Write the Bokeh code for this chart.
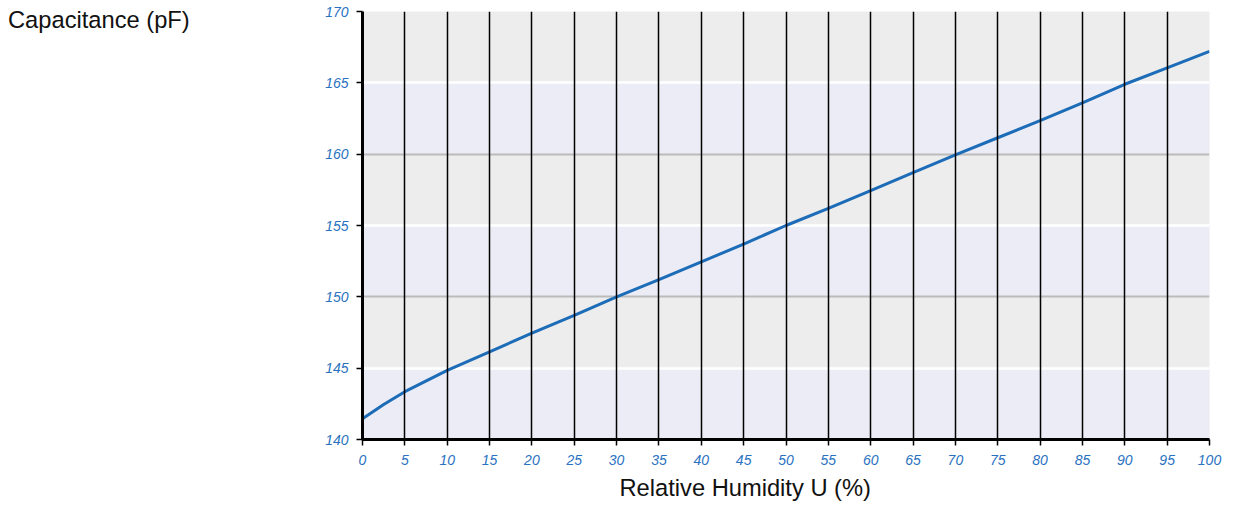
from bokeh.plotting import figure
from bokeh.models import Range1d, FixedTicker, Grid, BoxAnnotation, Title, Div
from bokeh.layouts import row
from bokeh.embed import file_html
from bokeh.resources import INLINE

humidity = [0, 2.5, 5, 10, 15, 20, 25, 30, 35, 40, 45, 50, 55, 60, 65, 70, 75, 80, 85, 90, 95, 100]
capacitance = [141.45, 142.45, 143.35, 144.85, 146.15, 147.45, 148.7, 150.0, 151.2, 152.45, 153.7, 155.0,
               156.2, 157.45, 158.7, 159.95, 161.15, 162.35, 163.6, 164.9, 166.05, 167.2]
x_ticks = list(range(0, 101, 5))
y_ticks = [140, 145, 150, 155, 160, 165, 170]
y_title = "Capacitance (pF)"
x_title = "Relative Humidity U (%)"

TICK_COLOR = "#2a72bf"
LINE_COLOR = "#1c6cb8"
DIV_W = 300

p = figure(width=1226 - DIV_W, height=505, output_backend="svg", toolbar_location=None,
           x_range=Range1d(0, 100), y_range=Range1d(140, 170),
           min_border_left=362 - DIV_W, min_border_right=17, min_border_top=11, min_border_bottom=65)
p.outline_line_color = None
p.background_fill_color = "#ededed"
p.border_fill_color = "white"

for lo in y_ticks[:-1]:
    if (lo - 140) % 10 == 0:
        p.add_layout(BoxAnnotation(bottom=lo, top=lo + 5, fill_color="#ebecf5", fill_alpha=1.0,
                                   line_color=None, level="underlay"))

p.xgrid.ticker = FixedTicker(ticks=x_ticks[1:])
p.xgrid.grid_line_color = "black"
p.xgrid.grid_line_width = 1.5
p.xgrid.level = "glyph"

p.ygrid.visible = False
p.add_layout(Grid(dimension=1, ticker=FixedTicker(ticks=[145, 155, 165]),
                  grid_line_color="white", grid_line_width=2.5, level="underlay"))
p.add_layout(Grid(dimension=1, ticker=FixedTicker(ticks=[150, 160]),
                  grid_line_color="#bbbbbb", grid_line_width=2, level="underlay"))

p.line(humidity, capacitance, line_color=LINE_COLOR, line_width=3)

for ax in (p.xaxis, p.yaxis):
    ax.axis_line_width = 3
    ax.axis_line_color = "black"
    ax.major_tick_line_color = "black"
    ax.major_tick_line_width = 1.5
    ax.major_tick_out = 6
    ax.major_tick_in = 0
    ax.minor_tick_line_color = None
    ax.major_label_text_color = TICK_COLOR
    ax.major_label_text_font = "Liberation Sans"
    ax.major_label_text_font_style = "italic"
    ax.major_label_text_font_size = "14px"

p.xaxis.ticker = FixedTicker(ticks=x_ticks)
p.yaxis.ticker = FixedTicker(ticks=y_ticks)
p.xaxis.major_label_standoff = 9
p.yaxis.major_label_standoff = 8

p.add_layout(Title(text=x_title, align="left", offset=257, text_font="Liberation Sans",
                   text_font_size="23.7px", text_font_style="normal", text_color="#111111",
                   standoff=10), "below")

div = Div(text=y_title, width=DIV_W, height=40, margin=(0, 0, 0, 0),
          styles={"font-family": "Liberation Sans", "font-size": "23.7px", "color": "#111111",
                  "padding-left": "8px", "padding-top": "4px"})

layout = row(div, p)
open("out.html", "w").write(file_html(layout, INLINE))
